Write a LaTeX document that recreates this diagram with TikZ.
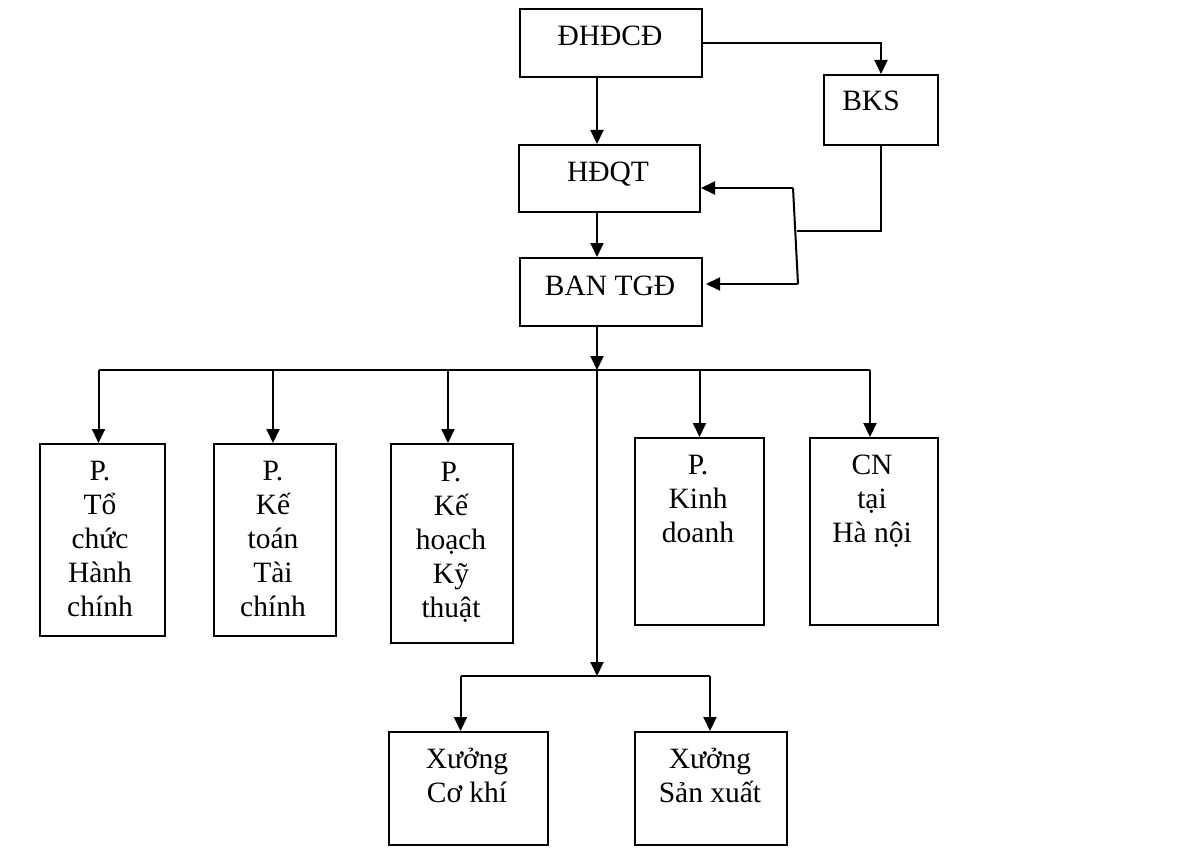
\documentclass[tikz,border=0pt]{standalone}
\usepackage{fontspec}
\setmainfont{Liberation Serif}
\usetikzlibrary{arrows.meta,calc}
\begin{document}
\begin{tikzpicture}[x=1pt,y=-1pt, line width=2pt,
  box/.style={draw, rectangle, inner sep=0pt, anchor=north west},
  lbl/.style={font=\fontsize{29.5}{34}\selectfont, align=center, anchor=base, inner sep=0pt},
  arr/.style={-{Triangle[length=14pt,width=13pt]}}]
\useasboundingbox (0,0) rectangle (1187,848);
% boxes
\node[box, minimum width=182pt, minimum height=68pt] (dh) at (519,8) {};
\node[box, minimum width=114pt, minimum height=70pt] (bks) at (823,74) {};
\node[box, minimum width=181pt, minimum height=67pt] (hd) at (518,144) {};
\node[box, minimum width=182pt, minimum height=68pt] (ban) at (519,257) {};
\node[box, minimum width=125pt, minimum height=192pt] (p1) at (39,443) {};
\node[box, minimum width=122pt, minimum height=192pt] (p2) at (213,443) {};
\node[box, minimum width=122pt, minimum height=199pt] (p3) at (390,443) {};
\node[box, minimum width=129pt, minimum height=187pt] (p4) at (634,437) {};
\node[box, minimum width=128pt, minimum height=187pt] (p5) at (809,437) {};
\node[box, minimum width=159pt, minimum height=113pt] (x1) at (388,731) {};
\node[box, minimum width=152pt, minimum height=113pt] (x2) at (634,731) {};
% labels (anchor base = baseline of last line)
\node[lbl] (tdh) at (610,46) {ĐHĐCĐ};
\node[lbl] (tbks) at (871,111) {BKS};
\node[lbl] (thd) at (608,182) {HĐQT};
\node[lbl] (tban) at (610,295) {BAN TGĐ};
\node[lbl] (tp1) at (100,616) {P.\\Tổ\\chức\\Hành\\chính};
\node[lbl] (tp2) at (273,616) {P.\\Kế\\toán\\Tài\\chính};
\node[lbl] (tp3) at (451,617) {P.\\Kế\\hoạch\\Kỹ\\thuật};
\node[lbl] (tp4) at (698,542) {P.\\Kinh\\doanh};
\node[lbl] (tp5) at (872,542) {CN\\tại\\Hà nội};
\node[lbl] (tx1) at (467,802) {Xưởng\\Cơ khí};
\node[lbl] (tx2) at (710,802) {Xưởng\\Sản xuất};
% coordinates
\coordinate (trunk) at (597,0);
\coordinate (bus) at (0,370);
\coordinate (bus2) at (0,676);
\coordinate (j) at (797,231);
\coordinate (vt) at (793,188);
\coordinate (vb) at (798,284);
% connectors
\draw[arr] (dh.south -| trunk) -- (hd.north -| trunk);
\draw[arr] (dh.east) -| (bks.north);
\draw[arr] (hd.south -| trunk) -- (ban.north -| trunk);
\draw (bks.south) |- (j);
\draw (vt) -- (vb);
\draw[arr] (vt) -- (vt -| hd.east);
\draw[arr] (vb) -- ($(vb -| ban.east)+(3,0)$);
\draw[arr] (ban.south -| trunk) -- (trunk |- bus);
\draw ($(p1.north |- bus)+(-4,0)$) -- ($(p5.north |- bus)+(-4,0)$);
\draw[arr] ($(p1.north |- bus)+(-4,0)$) -- ($(p1.north)+(-4,0)$);
\draw[arr] ($(p2.north |- bus)+(-2,0)$) -- ($(p2.north)+(-2,0)$);
\draw[arr] ($(p3.north |- bus)+(-4,0)$) -- ($(p3.north)+(-4,0)$);
\draw[arr] (p4.north |- bus) -- (p4.north);
\draw[arr] ($(p5.north |- bus)+(-4,0)$) -- ($(p5.north)+(-4,0)$);
\draw[arr] (trunk |- bus) -- (trunk |- bus2);
\draw ($(x1.north |- bus2)+(-8,0)$) -- ($(x2.north |- bus2)+(-1,0)$);
\draw[arr] ($(x1.north |- bus2)+(-8,0)$) -- ($(x1.north)+(-8,0)$);
\draw[arr] ($(x2.north |- bus2)+(-1,0)$) -- ($(x2.north)+(-1,0)$);
\end{tikzpicture}
\end{document}
